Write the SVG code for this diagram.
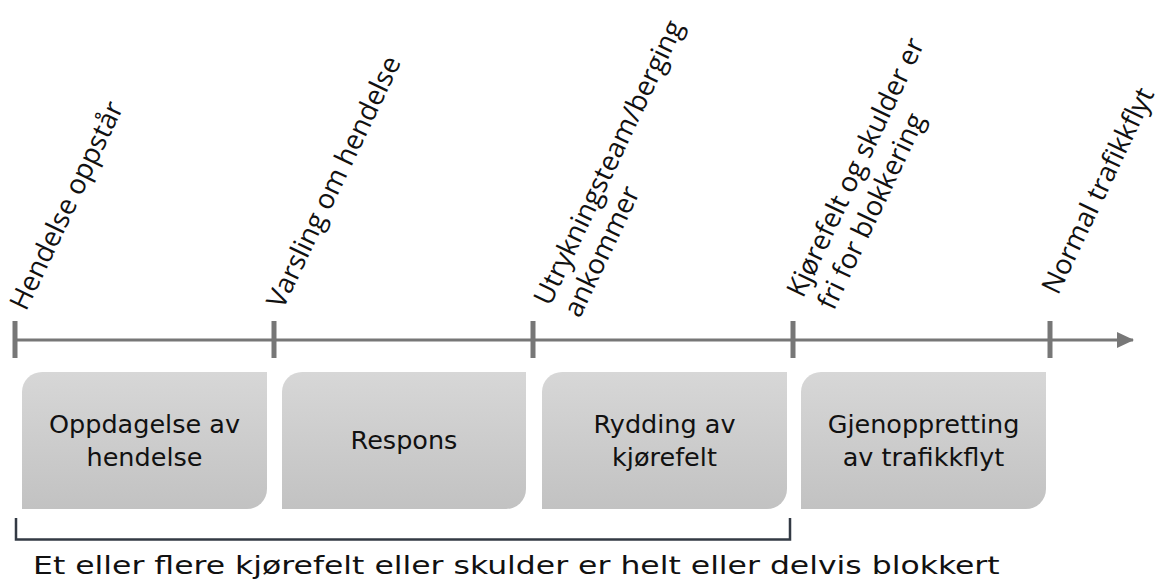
<svg xmlns="http://www.w3.org/2000/svg" width="1167" height="581" viewBox="0 0 1167 581">
<defs>
<linearGradient id="boxg" x1="0" y1="0" x2="0" y2="1">
<stop offset="0" stop-color="#d7d7d7"/>
<stop offset="1" stop-color="#c2c2c2"/>
</linearGradient>
<marker id="arr" markerWidth="17" markerHeight="16" refX="16" refY="8" orient="auto" markerUnits="userSpaceOnUse">
<path d="M0,0 L17,8 L0,16 Z" fill="#777777"/>
</marker>
<style>
.tick{stroke:#777777;stroke-width:5}
.axis{stroke:#777777;stroke-width:3;fill:none}
.box{fill:url(#boxg)}
.bt{font-family:"DejaVu Sans",Verdana,sans-serif;font-size:25.5px;fill:#111111;text-anchor:middle}
.lbl{font-family:"Open Sans","Noto Sans",sans-serif;font-size:27.5px;fill:#111111}
.brk{stroke:#333a44;stroke-width:2.5;fill:none}
.note{font-family:"DejaVu Sans",Verdana,sans-serif;font-size:24.5px;fill:#111111}
</style>
</defs>
<g id="connectors">
<line class="axis" x1="15" y1="340" x2="1133" y2="340" marker-end="url(#arr)"/>
<line class="tick" x1="15" y1="321" x2="15" y2="358"/>
<line class="tick" x1="274" y1="321" x2="274" y2="358"/>
<line class="tick" x1="533" y1="321" x2="533" y2="358"/>
<line class="tick" x1="793" y1="321" x2="793" y2="358"/>
<line class="tick" x1="1050" y1="321" x2="1050" y2="358"/>
</g>
<g id="label-hendelse-oppstar">
<text class="lbl" transform="translate(26,312) rotate(-64.5)">Hendelse oppstår</text>
</g>
<g id="label-varsling">
<text class="lbl" transform="translate(283,310) rotate(-64.5)">Varsling om hendelse</text>
</g>
<g id="label-utrykning">
<text class="lbl" transform="translate(550,307) rotate(-64.5)"><tspan x="0" y="0">Utrykningsteam/berging</tspan><tspan x="2" y="32">ankommer</tspan></text>
</g>
<g id="label-kjorefelt">
<text class="lbl" transform="translate(803,299) rotate(-64.5)"><tspan x="0" y="0">Kjørefelt og skulder er</tspan><tspan x="2" y="33">fri for blokkering</tspan></text>
</g>
<g id="label-normal">
<text class="lbl" transform="translate(1058,296) rotate(-64.5)">Normal trafikkflyt</text>
</g>
<g id="box-oppdagelse">
<path class="box" d="M42,372 H267 V489 A20,20 0 0 1 247,509 H22 V392 A20,20 0 0 1 42,372 Z"/>
<text class="bt" x="144.5" y="433">Oppdagelse av</text>
<text class="bt" x="144.5" y="466">hendelse</text>
</g>
<g id="box-respons">
<path class="box" d="M302,372 H526 V489 A20,20 0 0 1 506,509 H282 V392 A20,20 0 0 1 302,372 Z"/>
<text class="bt" x="404" y="449">Respons</text>
</g>
<g id="box-rydding">
<path class="box" d="M562,372 H787 V489 A20,20 0 0 1 767,509 H542 V392 A20,20 0 0 1 562,372 Z"/>
<text class="bt" x="664.5" y="433">Rydding av</text>
<text class="bt" x="664.5" y="466">kjørefelt</text>
</g>
<g id="box-gjenoppretting">
<path class="box" d="M821,372 H1046 V489 A20,20 0 0 1 1026,509 H801 V392 A20,20 0 0 1 821,372 Z"/>
<text class="bt" x="923.5" y="433">Gjenoppretting</text>
<text class="bt" x="923.5" y="466">av trafikkflyt</text>
</g>
<g id="bracket">
<path class="brk" d="M16,518 V539.5 H790 V518"/>
<text class="note" transform="translate(33,574) scale(1.285,1)">Et eller flere kjørefelt eller skulder er helt eller delvis blokkert</text>
</g>
</svg>
